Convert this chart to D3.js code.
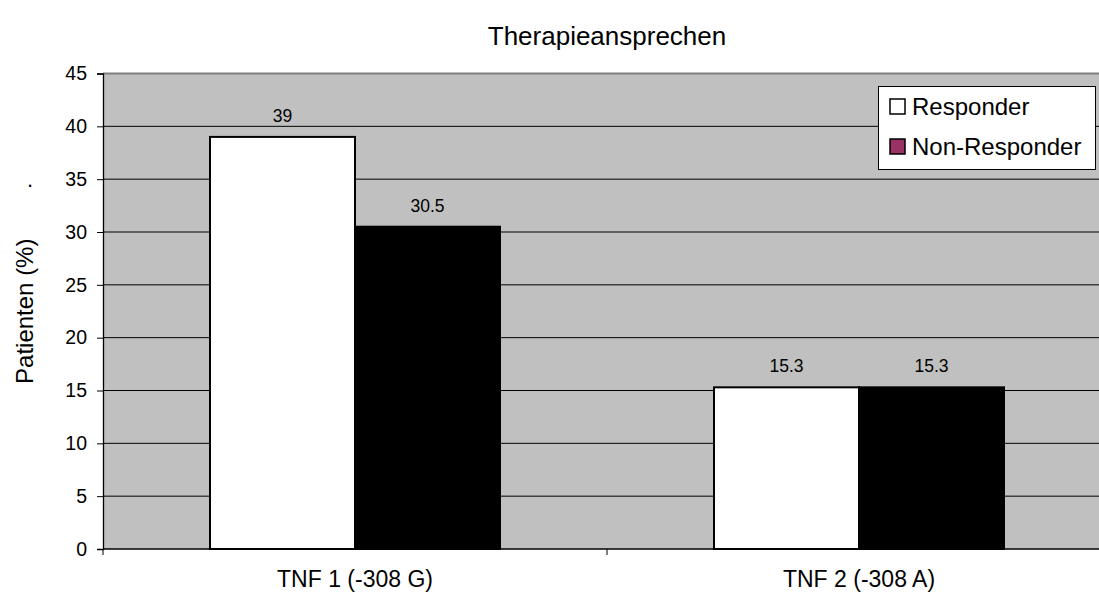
<!DOCTYPE html>
<html><head><meta charset="utf-8">
<script src="https://cdn.jsdelivr.net/npm/d3@7"></script>
<style>body{margin:0;background:#fff}svg{display:block;font-family:"Liberation Sans",Arial,sans-serif}</style>
</head><body><svg id="c" width="1099" height="599"></svg>
<script>
const categories = ["TNF 1 (-308 G)", "TNF 2 (-308 A)"];
const seriesNames = ["Responder", "Non-Responder"];
const responder = [39, 15.3];
const nonResponder = [30.5, 15.3];
const yTicks = [0, 5, 10, 15, 20, 25, 30, 35, 40, 45];

const svg = d3.select("#c");
const FF = "Liberation Sans, Arial, sans-serif";
const m = {left: 103, top: 73.5, right: 1111, bottom: 549};
const x0 = d3.scaleBand().domain(categories).range([m.left, m.right]);
const x1 = d3.scaleBand().domain(seriesNames).range([0, 290]);
const y = d3.scaleLinear().domain([0, 45]).range([m.bottom, m.top]);
const fills = {"Responder": "#ffffff", "Non-Responder": "#000000"};

svg.append("rect").attr("x", m.left).attr("y", m.top).attr("width", m.right - m.left).attr("height", m.bottom - m.top).attr("fill", "#c0c0c0");
svg.append("line").attr("x1", m.left).attr("x2", m.right).attr("y1", m.top).attr("y2", m.top).attr("stroke", "#808080").attr("stroke-width", 2);

svg.append("g").selectAll("line").data(yTicks.filter(d => d > 0 && d < 45)).join("line")
  .attr("x1", m.left).attr("x2", m.right).attr("y1", d => y(d)).attr("y2", d => y(d))
  .attr("stroke", "#000").attr("stroke-width", 1);

const data = [];
categories.forEach((c, i) => {
  data.push({c, s: "Responder", v: responder[i]});
  data.push({c, s: "Non-Responder", v: nonResponder[i]});
});
const off = (x0.bandwidth() - 290) / 2;
svg.append("g").selectAll("rect").data(data).join("rect")
  .attr("x", d => x0(d.c) + off + x1(d.s))
  .attr("y", d => y(d.v))
  .attr("width", x1.bandwidth())
  .attr("height", d => y(0) - y(d.v))
  .attr("fill", d => fills[d.s]).attr("stroke", "#000").attr("stroke-width", 2);

svg.append("g").selectAll("text").data(data).join("text")
  .attr("x", d => x0(d.c) + off + x1(d.s) + x1.bandwidth() / 2)
  .attr("y", d => y(d.v) - 15)
  .attr("text-anchor", "middle").attr("font-size", 17.5).attr("fill", "#000")
  .text(d => d.v);

const yAxis = svg.append("g").attr("transform", `translate(${m.left},0)`)
  .call(d3.axisLeft(y).tickValues(yTicks).tickSize(6).tickPadding(10).tickFormat(d3.format("d")));
yAxis.selectAll("text").attr("font-size", 19.5).attr("font-family", FF).attr("fill", "#000");
yAxis.select(".domain").attr("stroke", "#000").attr("stroke-width", 1.3);

const xAxis = svg.append("g").attr("transform", `translate(0,${m.bottom})`)
  .call(d3.axisBottom(x0).tickSize(0).tickPadding(22));
xAxis.select(".domain").remove();
xAxis.selectAll("text").attr("font-size", 23).attr("font-family", FF).attr("fill", "#000");
svg.append("line").attr("x1", m.left).attr("x2", m.right).attr("y1", m.bottom).attr("y2", m.bottom).attr("stroke", "#000").attr("stroke-width", 1.3);
svg.append("g").selectAll("line").data(categories).join("line")
  .attr("x1", d => x0(d)).attr("x2", d => x0(d)).attr("y1", m.bottom).attr("y2", m.bottom + 6)
  .attr("stroke", "#000").attr("stroke-width", 1);

svg.append("text").attr("x", (m.left + m.right) / 2).attr("y", 45).attr("text-anchor", "middle")
  .attr("font-size", 26).text("Therapieansprechen");
svg.append("text").attr("transform", `translate(33,${(m.top + m.bottom) / 2}) rotate(-90)`)
  .attr("text-anchor", "middle").attr("font-size", 24).text("Patienten (%)");
svg.append("text").attr("x", 30).attr("y", 187).attr("text-anchor", "middle").attr("font-size", 22).text(".");

const lg = svg.append("g");
lg.append("rect").attr("x", 878.5).attr("y", 86.5).attr("width", 217).attr("height", 83).attr("fill", "#fff").attr("stroke", "#000").attr("stroke-width", 1);
const lgColors = ["#ffffff", "#993366"];
seriesNames.forEach((s, i) => {
  const cy = 107 + i * 40;
  lg.append("rect").attr("x", 890).attr("y", cy - 8).attr("width", 15).attr("height", 15).attr("fill", lgColors[i]).attr("stroke", "#000").attr("stroke-width", 1.5);
  lg.append("text").attr("x", 912).attr("y", cy + 8).attr("font-size", 24).text(s);
});
</script></body></html>
